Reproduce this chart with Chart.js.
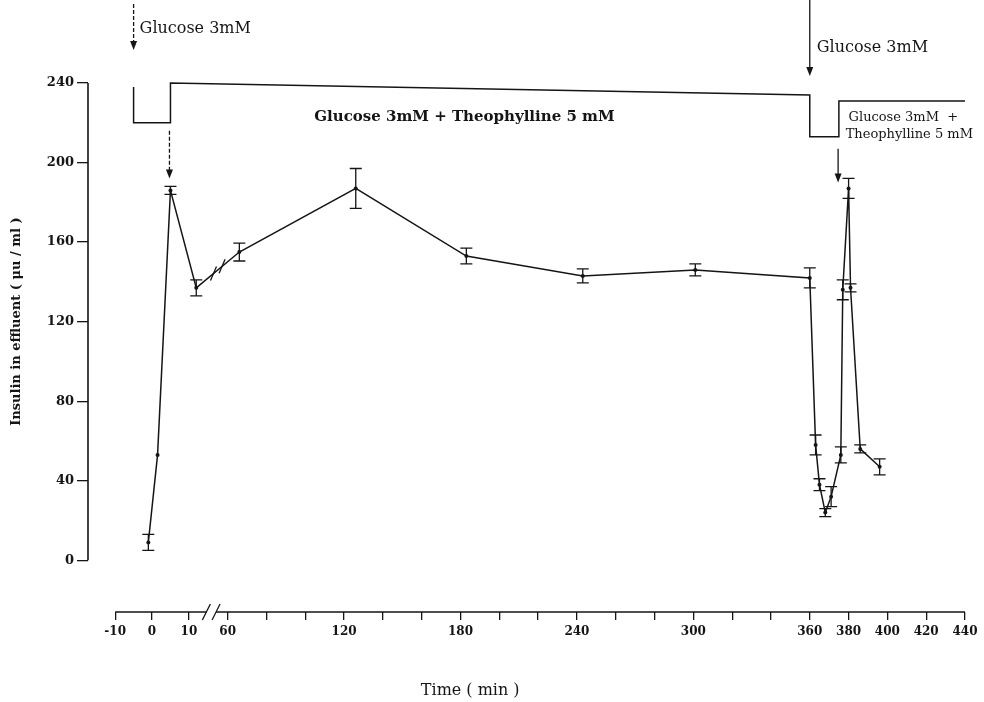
<!DOCTYPE html>
<html>
<head>
<meta charset="utf-8">
<script src="https://cdn.jsdelivr.net/npm/chart.js@4"></script>
<style>
  body { margin: 0; background: #fff; }
</style>
</head>
<body>
<canvas id="insulinChart" width="984" height="702"></canvas>
<script>
// perfusion samples: time (min), insulin (µU/ml), error (±)
const insulinTime = [-1, 1.5, 5, 12, 66, 126, 183, 243, 301, 360, 363, 365, 368, 371, 376, 377, 380, 381, 386, 396];
const insulinValue = [9, 53, 186, 137, 155, 187, 153, 143, 146, 142, 58, 38, 24, 32, 53, 136, 187, 137, 56, 47];
const insulinError = [4, 0, 2, 4, 4.5, 10, 4, 3.5, 3, 5, 5, 3, 2, 5, 4, 5, 5, 2, 2, 4];

// stimulus trace at the top
const stimTime = [-5, -5, 5, 5, 360, 360, 375, 375, 440];
const stimLevel = [238, 220, 220, 240, 234, 213, 213, 231, 231];

const xTickTimes = [-10, 0, 10, 60, 80, 100, 120, 140, 160, 180, 200, 220, 240, 260, 280, 300, 320, 340, 360, 380, 400, 420, 440];
const xTickLabels = ["-10", "0", "10", "60", "", "", "120", "", "", "180", "", "", "240", "", "", "300", "", "", "360", "380", "400", "420", "440"];
const yTickValues = [0, 40, 80, 120, 160, 200, 240];

const ink = "#151515";
const serif = '"DejaVu Serif", "Liberation Serif", serif';

// the first 15 minutes are stretched, the axis is broken between 10 and 60
function toAxis(t) {
  return t <= 15 ? 21 + 1.9 * t : t;
}

function arrow(ctx, px, y1, y2, dashed) {
  ctx.save();
  if (dashed) ctx.setLineDash([4, 2]);
  ctx.beginPath();
  ctx.moveTo(px, y1);
  ctx.lineTo(px, y2 - 6);
  ctx.stroke();
  ctx.restore();
  ctx.beginPath();
  ctx.moveTo(px - 3.5, y2 - 9);
  ctx.lineTo(px + 3.5, y2 - 9);
  ctx.lineTo(px, y2);
  ctx.closePath();
  ctx.fill();
}

const annotate = {
  id: "annotate",
  afterDatasetsDraw(chart) {
    const { ctx, scales: { x, y } } = chart;
    ctx.save();
    ctx.strokeStyle = ink;
    ctx.fillStyle = ink;
    ctx.lineWidth = 1.3;

    // error bars
    insulinTime.forEach((t, i) => {
      const e = insulinError[i];
      if (!e) return;
      const px = x.getPixelForValue(toAxis(t));
      const top = y.getPixelForValue(insulinValue[i] + e);
      const bot = y.getPixelForValue(insulinValue[i] - e);
      ctx.beginPath();
      ctx.moveTo(px, top); ctx.lineTo(px, bot);
      ctx.moveTo(px - 6, top); ctx.lineTo(px + 6, top);
      ctx.moveTo(px - 6, bot); ctx.lineTo(px + 6, bot);
      ctx.stroke();
    });

    // break marks on the data line
    const ax = x.getPixelForValue(toAxis(insulinTime[3]));
    const ay = y.getPixelForValue(insulinValue[3]);
    const bx = x.getPixelForValue(toAxis(insulinTime[4]));
    const by = y.getPixelForValue(insulinValue[4]);
    [0.4, 0.6].forEach(f => {
      const cx = ax + (bx - ax) * f, cy = ay + (by - ay) * f;
      ctx.beginPath();
      ctx.moveTo(cx - 3, cy + 7);
      ctx.lineTo(cx + 3, cy - 7);
      ctx.stroke();
    });
    ctx.restore();
  },
  afterDraw(chart) {
    const { ctx, chartArea, scales: { x, y } } = chart;
    ctx.save();
    ctx.strokeStyle = ink;
    ctx.fillStyle = ink;
    ctx.lineWidth = 1.6;

    // y axis line, 0 to 240 only
    ctx.beginPath();
    ctx.moveTo(chartArea.left, y.getPixelForValue(0));
    ctx.lineTo(chartArea.left, y.getPixelForValue(240));
    ctx.stroke();

    // x axis line with a break
    const by = chartArea.bottom;
    const b1 = x.getPixelForValue(49), b2 = x.getPixelForValue(54);
    ctx.beginPath();
    ctx.moveTo(x.getPixelForValue(toAxis(-10)), by);
    ctx.lineTo(b1, by);
    ctx.moveTo(b2, by);
    ctx.lineTo(x.getPixelForValue(440), by);
    ctx.stroke();
    ctx.lineWidth = 1.3;
    [b1, b2].forEach(bx => {
      ctx.beginPath();
      ctx.moveTo(bx - 4, by + 8);
      ctx.lineTo(bx + 4, by - 8);
      ctx.stroke();
    });

    // arrows
    const gx1 = x.getPixelForValue(toAxis(-5));
    arrow(ctx, gx1, 4, 50, true);
    const gx2 = x.getPixelForValue(360);
    arrow(ctx, gx2, 0, 76, false);
    arrow(ctx, x.getPixelForValue(toAxis(5)) - 1, y.getPixelForValue(216), y.getPixelForValue(192), true);
    arrow(ctx, x.getPixelForValue(374.6), y.getPixelForValue(207), y.getPixelForValue(190), false);

    // labels
    ctx.textBaseline = "alphabetic";
    ctx.textAlign = "left";
    ctx.font = "16px " + serif;
    ctx.fillText("Glucose 3mM", gx1 + 6, 33);
    ctx.fillText("Glucose 3mM", gx2 + 7, 52);
    ctx.textAlign = "center";
    ctx.font = "bold 15px " + serif;
    ctx.fillText("Glucose 3mM + Theophylline 5 mM", x.getPixelForValue(182), y.getPixelForValue(221));
    ctx.textAlign = "left";
    ctx.font = "13px " + serif;
    ctx.fillText("Glucose 3mM  +", x.getPixelForValue(380), y.getPixelForValue(221));
    ctx.fillText("Theophylline 5 mM", x.getPixelForValue(378.5), y.getPixelForValue(212.5));

    // axis titles
    ctx.textAlign = "center";
    ctx.font = "16px " + serif;
    ctx.fillText("Time ( min )", x.getPixelForValue(185), 695);
    ctx.save();
    ctx.translate(20, y.getPixelForValue(120));
    ctx.rotate(-Math.PI / 2);
    ctx.font = "bold 13px " + serif;
    ctx.fillText("Insulin in effluent ( μu / ml )", 0, 0);
    ctx.restore();
    ctx.restore();
  }
};

new Chart(document.getElementById("insulinChart"), {
  type: "line",
  data: {
    datasets: [
      {
        label: "Insulin",
        data: insulinTime.map((t, i) => ({ x: toAxis(t), y: insulinValue[i] })),
        borderColor: ink,
        borderWidth: 1.5,
        pointRadius: 2,
        pointBackgroundColor: ink,
        pointBorderWidth: 0,
        tension: 0,
      },
      {
        label: "Perfusion medium",
        data: stimTime.map((t, i) => ({ x: toAxis(t), y: stimLevel[i] })),
        borderColor: ink,
        borderWidth: 1.5,
        pointRadius: 0,
        tension: 0,
        clip: false,
      },
    ],
  },
  options: {
    responsive: false,
    animation: false,
    devicePixelRatio: 1,
    layout: { padding: { top: 83, right: 19, left: 0, bottom: 0 } },
    plugins: { legend: { display: false }, tooltip: { enabled: false } },
    scales: {
      x: {
        type: "linear",
        min: -12,
        max: 440,
        afterBuildTicks: scale => { scale.ticks = xTickTimes.map(t => ({ value: toAxis(t) })); },
        afterFit: scale => { scale.height = 90; },
        ticks: {
          autoSkip: false,
          maxRotation: 0,
          padding: 5,
          color: ink,
          font: { family: serif, size: 12, weight: "bold" },
          callback: (v, i) => xTickLabels[i],
        },
        grid: { drawOnChartArea: false, drawTicks: true, tickLength: 8, color: ink, lineWidth: 1.3 },
        border: { display: false },
      },
      y: {
        min: -26,
        max: 240,
        afterBuildTicks: scale => { scale.ticks = yTickValues.map(v => ({ value: v })); },
        afterFit: scale => { scale.width = 88; },
        ticks: {
          padding: 3,
          color: ink,
          font: { family: serif, size: 13, weight: "bold" },
        },
        grid: { drawOnChartArea: false, drawTicks: true, tickLength: 11, color: ink, lineWidth: 1.3 },
        border: { display: false },
      },
    },
  },
  plugins: [annotate],
});
</script>
</body>
</html>
